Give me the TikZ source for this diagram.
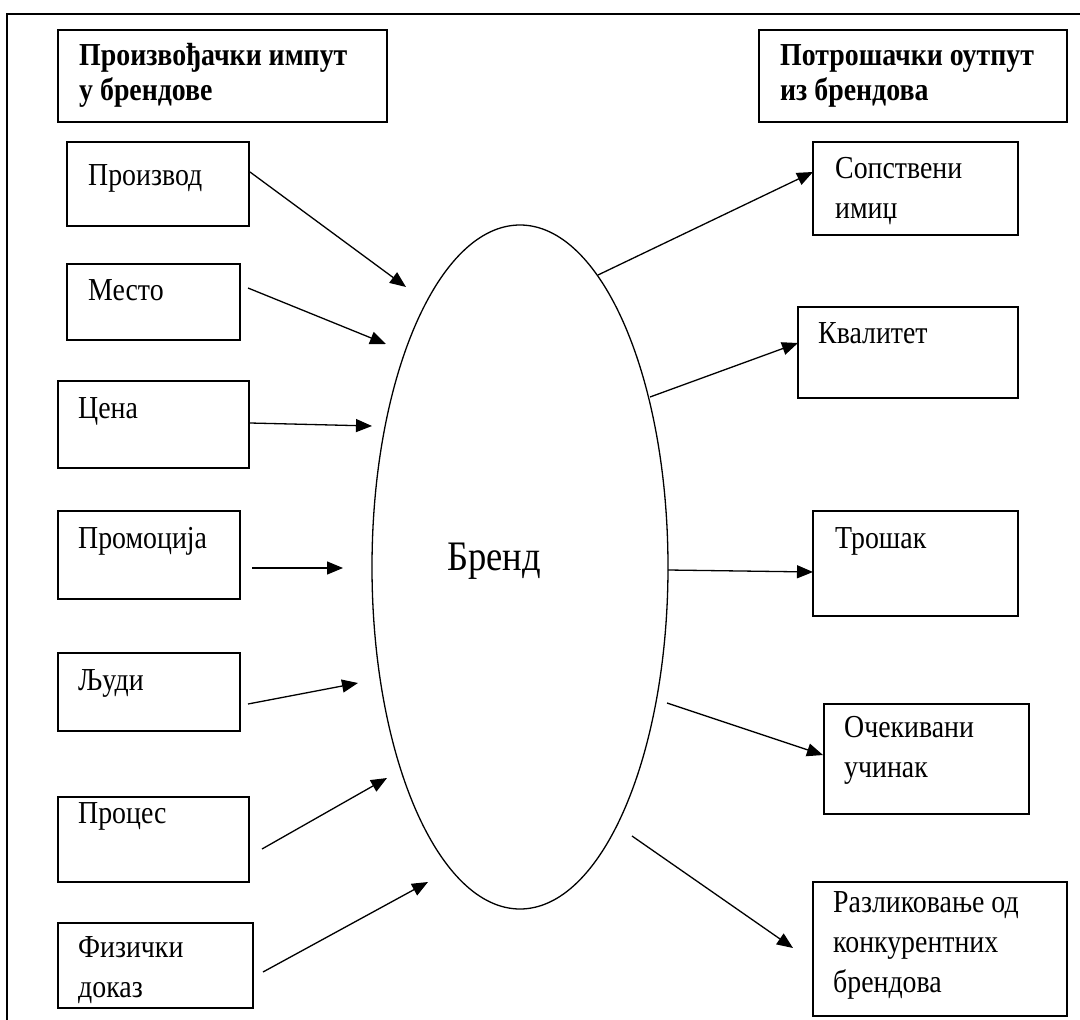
\documentclass[tikz,border=0pt]{standalone}
\usepackage{fontspec}
\setmainfont{Liberation Serif}[FakeStretch=0.87]
\usetikzlibrary{arrows.meta,shapes.geometric}

% multi-line labels are placed by the baseline of their last line
\tikzset{
  txt/.style={anchor=base west, inner sep=0pt, align=left,
              font=\fontsize{32}{40}\selectfont},
  hdr/.style={anchor=base west, inner sep=0pt, align=left,
              font=\fontsize{32}{35}\selectfont\bfseries},
  arr/.style={line width=1.3pt, -{Triangle[length=16pt,width=13pt]}},
  frame/.style={line width=1.5pt}
}

% a rectangle given by its corners (x1,y1) and (x2,y2)
\newcommand{\boxat}[5]{%
  \node[draw, line width=1.5pt, inner sep=0pt,
        minimum width={#4-#2}, minimum height={#5-#3}]
        (#1) at ({(#2+#4)/2},{(#3+#5)/2}) {};}

\begin{document}
\begin{tikzpicture}[x=1pt, y=-1pt]
\useasboundingbox (0,0) rectangle (1080,1020);

% outer frame (open at right and bottom)
\draw[frame] (1085,14) -- (7,14) -- (7,1025);

% headers
\boxat{hdrL}{58}{30}{387}{122}
\node[hdr] (hdrLt) at (79,100) {Произвођачки импут\\у брендове};
\boxat{hdrR}{759}{30}{1067}{122}
\node[hdr] (hdrRt) at (780,100) {Потрошачки оутпут\\из брендова};

% inputs
\boxat{prod}{67}{142}{249}{226}
\node[txt] (prodt) at (88,185) {Производ};
\boxat{mesto}{67}{264}{240}{340}
\node[txt] (mestot) at (88,300) {Место};
\boxat{cena}{58}{381}{249}{468}
\node[txt] (cenat) at (78,418) {Цена};
\boxat{promo}{58}{511}{240}{599}
\node[txt] (promot) at (78,548) {Промоција};
\boxat{ljudi}{58}{653}{240}{731}
\node[txt] (ljudit) at (78,690) {Људи};
\boxat{proc}{58}{797}{249}{882}
\node[txt] (proct) at (78,823) {Процес};
\boxat{fiz}{58}{923}{253}{1008}
\node[txt] (fizt) at (78,997) {Физички\\доказ};

% outputs
\boxat{sops}{813}{142}{1018}{235}
\node[txt] (sopst) at (835,218) {Сопствени\\имиџ};
\boxat{kval}{798}{307}{1018}{398}
\node[txt] (kvalt) at (818,343) {Квалитет};
\boxat{tros}{813}{511}{1018}{616}
\node[txt] (trost) at (835,548) {Трошак};
\boxat{ocek}{824}{704}{1029}{814}
\node[txt] (ocekt) at (844,777) {Очекивани\\учинак};
\boxat{razl}{813}{882}{1067}{1016}
\node[txt] (razlt) at (833,992) {Разликовање од\\конкурентних\\брендова};

% brand
\node[draw, ellipse, line width=1.3pt, inner sep=0pt,
      minimum width=296, minimum height=684] (brand) at (520,567) {};
\node[anchor=base west, inner sep=0pt, font=\fontsize{42}{48}\selectfont]
      (brandt) at (447,570) {Бренд};

% connector end points
\coordinate (a1s) at (250,172); \coordinate (a1e) at (406,287);
\coordinate (a2s) at (248,288); \coordinate (a2e) at (386,344);
\coordinate (a3s) at (250,423); \coordinate (a3e) at (372,426);
\coordinate (a4s) at (252,568); \coordinate (a4e) at (343,568);
\coordinate (a5s) at (248,704); \coordinate (a5e) at (358,683);
\coordinate (a6s) at (262,849); \coordinate (a6e) at (387,778);
\coordinate (a7s) at (263,972); \coordinate (a7e) at (428,882);

\coordinate (b1s) at (598,275); \coordinate (b1e) at (813,172);
\coordinate (b2s) at (650,397); \coordinate (b2e) at (798,343);
\coordinate (b3s) at (668,570); \coordinate (b3e) at (813,572);
\coordinate (b4s) at (667,703); \coordinate (b4e) at (823,755);
\coordinate (b5s) at (632,836); \coordinate (b5e) at (793,948);

\foreach \i in {1,...,7} { \draw[arr] (a\i s) -- (a\i e); }
\foreach \i in {1,...,5} { \draw[arr] (b\i s) -- (b\i e); }
\end{tikzpicture}
\end{document}
